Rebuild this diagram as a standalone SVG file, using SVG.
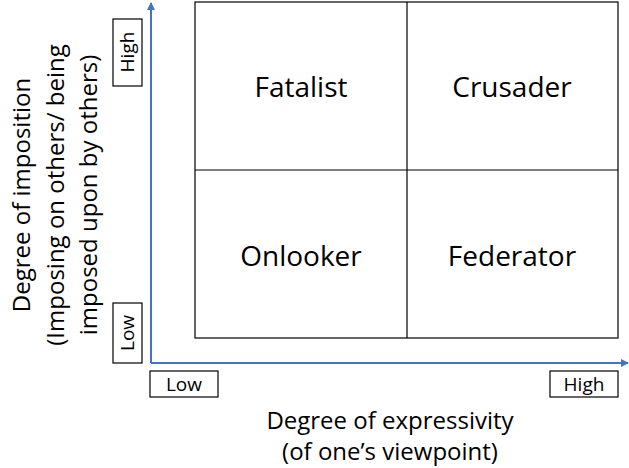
<svg xmlns="http://www.w3.org/2000/svg" width="629" height="468" viewBox="0 0 629 468">
<style>
text{font-family:"Open Sans","Liberation Sans",sans-serif;fill:#000;text-anchor:middle}
.q{font-size:28px}
.ax{font-size:24px}
.s{font-size:19px}
.b{fill:#fff;stroke:#000;stroke-width:1.2}
</style>
<defs><marker id="a" markerWidth="8" markerHeight="8" refX="7" refY="4" orient="auto" markerUnits="userSpaceOnUse"><path d="M0,0 L8,4 L0,8z" fill="#4472C4"/></marker></defs>
<rect width="629" height="468" fill="#fff"/>
<g id="grid">
<rect class="b" x="195" y="2" width="423" height="336"/>
<line x1="407" y1="2" x2="407" y2="338" stroke="#000" stroke-width="1.2"/>
<line x1="195" y1="170" x2="618" y2="170" stroke="#000" stroke-width="1.2"/>
</g>
<g id="fatalist"><text class="q" x="301" y="97">Fatalist</text></g>
<g id="crusader"><text class="q" x="512" y="97">Crusader</text></g>
<g id="onlooker"><text class="q" x="301" y="266">Onlooker</text></g>
<g id="federator"><text class="q" x="512" y="266">Federator</text></g>
<g id="connectors">
<line x1="151" y1="363" x2="151" y2="3" stroke="#4472C4" stroke-width="2" marker-end="url(#a)"/>
<line x1="151" y1="363" x2="628" y2="363" stroke="#4472C4" stroke-width="2" marker-end="url(#a)"/>
</g>
<g id="yhigh"><rect class="b" x="113" y="19" width="29" height="67"/><text class="s" transform="translate(134,52) rotate(-90)">High</text></g>
<g id="ylow"><rect class="b" x="113" y="303" width="29" height="60"/><text class="s" transform="translate(134,333) rotate(-90)">Low</text></g>
<g id="xlow"><rect class="b" x="150" y="371" width="68" height="26"/><text class="s" x="184" y="391">Low</text></g>
<g id="xhigh"><rect class="b" x="550" y="371" width="68" height="26"/><text class="s" x="584" y="391">High</text></g>
<g id="ylabel"><text class="ax" transform="translate(0,195) rotate(-90)"><tspan x="0" y="30">Degree of imposition</tspan><tspan x="0" y="64">(Imposing on others/ being</tspan><tspan x="0" y="97">imposed upon by others)</tspan></text></g>
<g id="xlabel"><text class="ax" x="390" y="429">Degree of expressivity</text><text class="ax" x="390" y="460">(of one’s viewpoint)</text></g>
</svg>
